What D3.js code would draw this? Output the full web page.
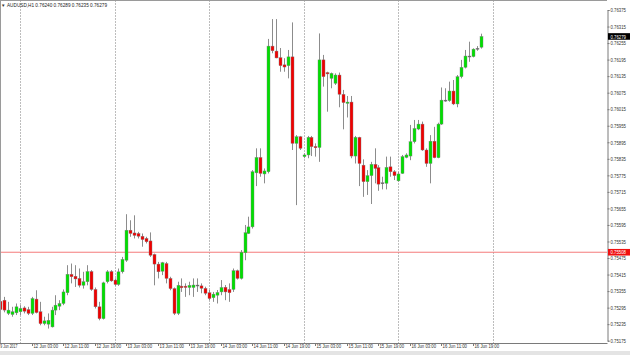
<!DOCTYPE html>
<html>
<head>
<meta charset="utf-8">
<script src="https://cdn.jsdelivr.net/npm/d3@7"></script>
<style>
  body { margin: 0; background: #fff; }
  svg { display: block; }
  text { font-family: "Liberation Sans", Arial, sans-serif; }
</style>
</head>
<body>
<div id="chart"></div>
<script>
// AUDUSD H1 bars, first bar is 9 Jun 19:00, bar 0 is 12 Jun 00:00
const firstBar = -5;
const open = [
  0.75318, 0.75322, 0.75274, 0.75270, 0.75276, 0.75280, 0.75294, 0.75288, 0.75274, 0.75326,
  0.75280, 0.75237, 0.75235, 0.75225, 0.75286, 0.75300, 0.75310, 0.75349, 0.75416, 0.75409,
  0.75401, 0.75376, 0.75389, 0.75426, 0.75361, 0.75298, 0.75255, 0.75389, 0.75426, 0.75395,
  0.75379, 0.75425, 0.75467, 0.75576, 0.75566, 0.75564, 0.75554, 0.75546, 0.75537, 0.75488,
  0.75453, 0.75427, 0.75455, 0.75401, 0.75364, 0.75274, 0.75373, 0.75373, 0.75368, 0.75368,
  0.75377, 0.75374, 0.75365, 0.75349, 0.75331, 0.75340, 0.75352, 0.75369, 0.75361, 0.75361,
  0.75429, 0.75401, 0.75494, 0.75564, 0.75588, 0.75784, 0.75840, 0.75780, 0.75788, 0.76244,
  0.76226, 0.76202, 0.76176, 0.76173, 0.76205, 0.75891, 0.75915, 0.75843, 0.75849, 0.75913,
  0.75880, 0.75876, 0.76194, 0.76148, 0.76127, 0.76109, 0.76139, 0.76069, 0.76036, 0.76041,
  0.75845, 0.75913, 0.75812, 0.75752, 0.75774, 0.75815, 0.75803, 0.75746, 0.75746, 0.75806,
  0.75788, 0.75755, 0.75782, 0.75840, 0.75845, 0.75897, 0.75943, 0.75961, 0.75867, 0.75818,
  0.75899, 0.75839, 0.75961, 0.76046, 0.76046, 0.76081, 0.76034, 0.76133, 0.76167, 0.76208,
  0.76206, 0.76233, 0.76240
];
const high = [
  0.75340, 0.75334, 0.75316, 0.75298, 0.75310, 0.75304, 0.75300, 0.75298, 0.75334, 0.75358,
  0.75316, 0.75262, 0.75274, 0.75298, 0.75340, 0.75322, 0.75361, 0.75449, 0.75455, 0.75449,
  0.75437, 0.75425, 0.75449, 0.75431, 0.75368, 0.75316, 0.75389, 0.75431, 0.75431, 0.75401,
  0.75437, 0.75479, 0.75634, 0.75612, 0.75630, 0.75570, 0.75564, 0.75552, 0.75568, 0.75491,
  0.75461, 0.75461, 0.75461, 0.75407, 0.75368, 0.75389, 0.75401, 0.75383, 0.75389, 0.75401,
  0.75401, 0.75383, 0.75371, 0.75359, 0.75352, 0.75359, 0.75395, 0.75377, 0.75383, 0.75437,
  0.75433, 0.75504, 0.75595, 0.75625, 0.75794, 0.75873, 0.75873, 0.75800, 0.76270, 0.76342,
  0.76342, 0.76237, 0.76200, 0.76230, 0.76330, 0.75921, 0.75918, 0.75855, 0.75918, 0.75918,
  0.75891, 0.76290, 0.76212, 0.76151, 0.76148, 0.76145, 0.76148, 0.76085, 0.76063, 0.76063,
  0.75918, 0.75915, 0.75833, 0.75794, 0.75824, 0.75873, 0.75812, 0.75770, 0.75843, 0.75843,
  0.75794, 0.75788, 0.75849, 0.75855, 0.75958, 0.75976, 0.75976, 0.75970, 0.75873, 0.75921,
  0.75951, 0.75966, 0.76094, 0.76091, 0.76115, 0.76121, 0.76139, 0.76194, 0.76230, 0.76260,
  0.76236, 0.76244, 0.76289
];
const low = [
  0.75274, 0.75278, 0.75268, 0.75262, 0.75268, 0.75268, 0.75274, 0.75268, 0.75268, 0.75274,
  0.75231, 0.75231, 0.75219, 0.75223, 0.75268, 0.75286, 0.75304, 0.75340, 0.75383, 0.75370,
  0.75368, 0.75364, 0.75376, 0.75356, 0.75292, 0.75249, 0.75252, 0.75383, 0.75389, 0.75374,
  0.75374, 0.75419, 0.75461, 0.75552, 0.75546, 0.75546, 0.75516, 0.75528, 0.75479, 0.75376,
  0.75401, 0.75413, 0.75383, 0.75358, 0.75268, 0.75268, 0.75352, 0.75334, 0.75340, 0.75334,
  0.75352, 0.75347, 0.75340, 0.75322, 0.75316, 0.75310, 0.75340, 0.75322, 0.75316, 0.75352,
  0.75397, 0.75397, 0.75467, 0.75562, 0.75582, 0.75736, 0.75770, 0.75746, 0.75782, 0.76218,
  0.76200, 0.76151, 0.76151, 0.76127, 0.75867, 0.75667, 0.75867, 0.75837, 0.75837, 0.75845,
  0.75843, 0.75824, 0.76097, 0.76006, 0.76091, 0.76103, 0.76022, 0.75942, 0.75985, 0.75837,
  0.75818, 0.75736, 0.75697, 0.75704, 0.75671, 0.75746, 0.75719, 0.75724, 0.75724, 0.75770,
  0.75758, 0.75752, 0.75780, 0.75837, 0.75830, 0.75891, 0.75939, 0.75864, 0.75806, 0.75746,
  0.75837, 0.75837, 0.75958, 0.76042, 0.76042, 0.76030, 0.76022, 0.76127, 0.76163, 0.76187,
  0.76203, 0.76227, 0.76235
];
const close = [
  0.75288, 0.75286, 0.75286, 0.75280, 0.75298, 0.75292, 0.75282, 0.75274, 0.75328, 0.75277,
  0.75237, 0.75247, 0.75249, 0.75286, 0.75304, 0.75310, 0.75352, 0.75416, 0.75407, 0.75399,
  0.75376, 0.75389, 0.75426, 0.75361, 0.75298, 0.75255, 0.75385, 0.75425, 0.75392, 0.75379,
  0.75425, 0.75470, 0.75576, 0.75564, 0.75557, 0.75554, 0.75542, 0.75534, 0.75485, 0.75453,
  0.75425, 0.75458, 0.75401, 0.75364, 0.75274, 0.75376, 0.75367, 0.75368, 0.75376, 0.75377,
  0.75374, 0.75365, 0.75347, 0.75328, 0.75344, 0.75350, 0.75368, 0.75352, 0.75349, 0.75429,
  0.75401, 0.75496, 0.75567, 0.75588, 0.75788, 0.75840, 0.75782, 0.75791, 0.76244, 0.76227,
  0.76201, 0.76173, 0.76168, 0.76205, 0.75891, 0.75915, 0.75873, 0.75849, 0.75913, 0.75879,
  0.75875, 0.76194, 0.76133, 0.76143, 0.76145, 0.76139, 0.76069, 0.76039, 0.76041, 0.75845,
  0.75913, 0.75818, 0.75752, 0.75774, 0.75815, 0.75800, 0.75743, 0.75748, 0.75804, 0.75788,
  0.75774, 0.75780, 0.75843, 0.75849, 0.75897, 0.75945, 0.75961, 0.75867, 0.75818, 0.75899,
  0.75839, 0.75961, 0.76048, 0.76048, 0.76081, 0.76034, 0.76133, 0.76167, 0.76208, 0.76206,
  0.76233, 0.76236, 0.76279
];

// price scale labels
const priceTicks = [
  0.76375, 0.76315, 0.76255, 0.76195, 0.76135, 0.76075, 0.76015, 0.75955, 0.75895, 0.75835,
  0.75775, 0.75715, 0.75655, 0.75595, 0.75535, 0.75475, 0.75415, 0.75355, 0.75295, 0.75235,
  0.75175
];
// time labels (bar index of each)
const timeTickBars = [3, 11, 19, 27, 35, 43, 51, 59, 67, 75, 83, 91, 99, 107, 115];
const timeTickLabels = [
  "12 Jun 03:00", "12 Jun 11:00", "12 Jun 19:00", "13 Jun 03:00", "13 Jun 11:00",
  "13 Jun 19:00", "14 Jun 03:00", "14 Jun 11:00", "14 Jun 19:00", "15 Jun 03:00",
  "15 Jun 11:00", "15 Jun 19:00", "16 Jun 03:00", "16 Jun 11:00", "16 Jun 19:00"
];
const firstLabel = "9 Jun 2017";
const daySeparators = [0, 24, 48, 72, 96, 120];
const hLinePrice = 0.75496;
const hLineLabel = "0.75508";
const titleText = "AUDUSD,H1  0.76240 0.76289 0.76235 0.76279";

const W = 630, H = 355;
const plotRight = 607, plotTop = 0.5, plotBottom = 343;

const bars = open.map((o, k) => ({
  i: firstBar + k, o: o, h: high[k], l: low[k], c: close[k]
}));
const lastBar = bars[bars.length - 1];

const svg = d3.select("#chart").append("svg")
  .attr("width", W).attr("height", H);

const x = d3.scaleLinear().domain([-5, 149]).range([0.3, 606.9]);
const y = d3.scaleLinear().domain([0.75175, 0.76375]).range([340.7, 10]);

// bottom strip
svg.append("rect").attr("x", 0).attr("y", 351).attr("width", W).attr("height", 4)
  .attr("fill", "#e4e4e4");

// day separators
svg.append("g").selectAll("line")
  .data(daySeparators)
  .join("line")
  .attr("x1", d => Math.round(x(d)) + 0.5).attr("x2", d => Math.round(x(d)) + 0.5)
  .attr("y1", plotTop).attr("y2", plotBottom)
  .attr("stroke", "#7a7a7a").attr("stroke-width", 1)
  .attr("stroke-dasharray", "1,2");

// horizontal line
svg.append("line")
  .attr("x1", 0).attr("x2", plotRight)
  .attr("y1", y(hLinePrice)).attr("y2", y(hLinePrice))
  .attr("stroke", "#f47a7a").attr("stroke-width", 1);

// candles
const candle = svg.append("g").selectAll("g")
  .data(bars)
  .join("g");

candle.append("line")
  .attr("x1", d => Math.round(x(d.i)) + 0.5).attr("x2", d => Math.round(x(d.i)) + 0.5)
  .attr("y1", d => y(d.h)).attr("y2", d => y(d.l))
  .attr("stroke", "#8c8c8c").attr("stroke-width", 1);

candle.append("rect")
  .attr("x", d => Math.round(x(d.i)) - 1)
  .attr("y", d => y(Math.max(d.o, d.c)))
  .attr("width", 3)
  .attr("height", d => Math.max(1, Math.abs(y(d.o) - y(d.c))))
  .attr("fill", d => Math.abs(y(d.o) - y(d.c)) < 1.2 ? "#555" : (d.c >= d.o ? "#00e000" : "#f00000"))
  .attr("stroke", "#7f7f7f").attr("stroke-width", 0.4);

// frame
svg.append("line").attr("x1", 0).attr("x2", plotRight).attr("y1", plotTop).attr("y2", plotTop)
  .attr("stroke", "#9a9a9a").attr("stroke-width", 1);
svg.append("line").attr("x1", 0.5).attr("x2", 0.5).attr("y1", 0).attr("y2", plotBottom)
  .attr("stroke", "#9a9a9a").attr("stroke-width", 1);
svg.append("line").attr("x1", 0).attr("x2", plotRight + 0.5).attr("y1", plotBottom + 0.5).attr("y2", plotBottom + 0.5)
  .attr("stroke", "#7a7a7a").attr("stroke-width", 1);

// right price axis
const yAxis = d3.axisRight(y).tickValues(priceTicks).tickSize(2).tickPadding(1)
  .tickFormat(d3.format(".5f"));
const gy = svg.append("g").attr("transform", `translate(${plotRight + 0.5},0)`).call(yAxis);
gy.select(".domain").attr("stroke", "#7a7a7a");
gy.selectAll(".tick line").attr("stroke", "#7a7a7a");
gy.selectAll(".tick text")
  .attr("font-size", 5.4).attr("fill", "#333")
  .attr("textLength", 15.5).attr("lengthAdjust", "spacingAndGlyphs");

// price labels boxes
function priceBox(price, label, bg) {
  const g = svg.append("g").attr("transform", `translate(${plotRight + 1},${y(price)})`);
  g.append("rect").attr("x", 0).attr("y", -3.3).attr("width", 22).attr("height", 6.6).attr("fill", bg);
  g.append("text").attr("x", 2.5).attr("y", 2.1).attr("font-size", 5.4).attr("fill", "#fff")
    .attr("textLength", 15.5).attr("lengthAdjust", "spacingAndGlyphs").text(label);
}
priceBox(lastBar.c, d3.format(".5f")(lastBar.c), "#000");
priceBox(hLinePrice, hLineLabel, "#f01010");

// time axis
const gx = svg.append("g");
gx.selectAll("line")
  .data(timeTickBars)
  .join("line")
  .attr("x1", d => Math.round(x(d)) + 0.5).attr("x2", d => Math.round(x(d)) + 0.5)
  .attr("y1", plotBottom).attr("y2", plotBottom + 3)
  .attr("stroke", "#7a7a7a");
gx.selectAll("text")
  .data(timeTickBars)
  .join("text")
  .attr("x", d => Math.round(x(d)) + 1.5)
  .attr("y", 348.3)
  .attr("font-size", 5.4).attr("fill", "#333")
  .attr("textLength", 24.5).attr("lengthAdjust", "spacingAndGlyphs")
  .text((d, k) => timeTickLabels[k]);
svg.append("text").attr("x", 0.3).attr("y", 348.3)
  .attr("font-size", 5.4).attr("fill", "#333")
  .attr("textLength", 17).attr("lengthAdjust", "spacingAndGlyphs")
  .text(firstLabel);

// title
svg.append("text").attr("x", 1).attr("y", 6.8).attr("font-size", 4.5).attr("fill", "#333").text("\u25BC");
svg.append("text").attr("x", 7).attr("y", 7)
  .attr("font-size", 5.6).attr("fill", "#222")
  .attr("textLength", 100).attr("lengthAdjust", "spacingAndGlyphs")
  .text(titleText);
</script>
</body>
</html>
